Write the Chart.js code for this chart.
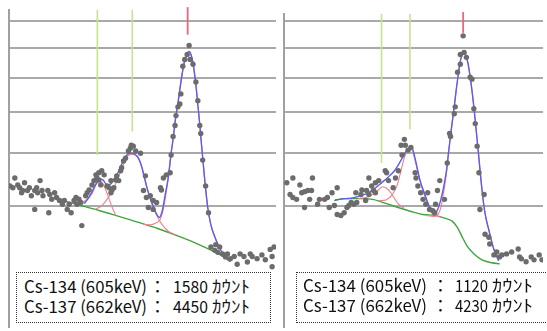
<!DOCTYPE html>
<html>
<head>
<meta charset="utf-8">
<script src="https://cdn.jsdelivr.net/npm/chart.js@4.4.1/dist/chart.umd.min.js"></script>
<style>
  html, body { margin: 0; padding: 0; background: #fff; overflow: hidden; }
  #wrap { position: relative; width: 547px; height: 331px; }
  canvas { position: absolute; top: 0; }
  .box { position: absolute; border: 1px dotted #333; background: #fff; box-sizing: border-box; }
  .t { position: absolute; font-family: "Noto Sans CJK JP"; font-size: 17px; line-height: 17px;
       white-space: pre; transform-origin: 0 0; color: #111; }
</style>
</head>
<body>
<div id="wrap">
  <canvas id="left" width="280" height="331" style="left:0"></canvas>
  <canvas id="right" width="267" height="331" style="left:280px"></canvas>
  <div class="box" style="left:16px;top:272px;width:255px;height:51px"></div>
  <div class="box" style="left:296px;top:272px;width:262px;height:51px"></div>
</div>
<script>
// energy (keV) / counts
const gridCounts = [100, 200, 300, 400, 500, 600];

const leftRangeKeV = [478, 753];
const leftRangeCounts = [0.216, 642.6];
const rightRangeKeV = [470, 747.6];
const rightRangeCounts = [0.216, 626.9];

const leftPoints = [
  [479,133],[482,130],[484,148],[487,135],[489,130],[491,121],[492,125],[494,139],[497,125],[499,130],
  [501,116],[504.5,125],[504.5,94],[506.5,130],[507.5,121],[510,143],[512,125],[513,116],[518,125],[519,89],
  [520,118],[522,110],[525,121],[527,113],[530,108],[533,102],[535,108],[538,94],[540,102],[542,89],
  [545,108],[547,113],[548,102],[550,110],[552,105],[553,71],[557,116],[558.5,121],[560.5,126],[563.5,135],
  [565.5,143],[567.5,154],[568.5,148],[570.5,158],[570.5,144],[572.5,135],[573.5,162],[576,154],[579,133],[581,130],
  [583,143],[583,121],[584,126],[586,130],[588,144],[589,152],[591,143],[593,162],[594,168],[596,182],
  [598,188],[601,204],[603,210],[604,217],[606,215],[608.5,204],[613.5,199],[616.5,125],[618.5,152],[619.5,113],
  [621.5,97],[623.5,116],[626.5,108],[626.5,94],[630,105],[634,130],[635,126],[637,148],[640,154],[644,158],
  [645,195],[647,238],[649,265],[650,291],[652,315],[654,323],[655,352],[657,438],[659,461],[661.5,478],
  [663.5,509],[664.5,461],[667.5,445],[670.5,388],[672.5,332],[674.5,265],[675.5,245],[677.5,184],[680.5,133],[683.5,89],
  [686,45.5],[690,42],[691,48],[693,40],[695,45.5],[698,38.5],[701,35.6],[703,38.5],[706,34],[710,36],
  [713,29],[716,38.5],[720,36],[723.5,31],[726.5,38.5],[728.5,36],[733.5,34],[738.5,37.5],[742,33],[747,43],
  [749,36],[751,45.5],[749,27]
];
const leftFit = [
  [555.4,103.1],[559.5,111.1],[563.5,122.9],[567.6,137.0],[570.7,146.2],[574.8,144.4],[578.8,135.2],[582.9,137.0],
  [587.0,148.1],[591.1,161.6],[595.1,179.9],[599.2,194.7],[603.3,199.1],[607.4,196.9],[611.4,188.3],[614.5,171.6],
  [617.5,148.1],[620.6,126.3],[624.7,106.3],[628.7,90.9],[632.8,82.3],[635.9,92.4],[638.9,117.8],[642.0,148.1],
  [645.0,199.1],[647.1,233.2],[649.1,275.2],[652.2,329.0],[655.2,390.8],[658.3,447.9],[661.3,477.9],[663.4,488.1],
  [665.4,477.9],[667.4,451.1],[670.5,378.6],[672.5,320.7],[674.6,265.0],[676.6,210.1],[679.7,142.5],[682.7,96.9],
  [685.8,72.7],[690.9,54.2],[696.0,42.4],[701.1,35.6],[706.1,32.0]
];
const leftPeakA = [
  [548.3,101.6],[556.4,107.9],[563.5,119.5],[567.6,135.2],[571.7,142.5],[575.8,133.4],[579.9,116.1],[583.9,98.5],[588.0,85.1]
];
const leftPeakB = [
  [566.6,93.9],[573.7,100.0],[580.9,114.4],[588.0,137.0],[595.1,171.6],[600.2,192.5],[604.3,196.9],[608.4,194.7],
  [612.5,181.9],[616.5,157.7],[620.6,128.1],[624.7,104.7],[629.8,86.5],[634.8,74.0],[642.0,63.7],[650.1,58.9]
];
const leftPeakC = [
  [616.5,72.7],[623.6,72.0],[628.7,74.0],[633.8,79.5],[636.9,93.9],[639.9,121.2],[643.0,163.6],[645.0,199.1],
  [647.1,233.2],[649.1,275.2],[652.2,329.0],[655.2,390.8],[658.3,447.9],[661.3,477.9],[663.4,488.1],[665.4,477.9],
  [667.4,451.1],[670.5,378.6],[672.5,320.7],[674.6,265.0],[676.6,210.1],[679.7,142.5],[682.7,96.9],[685.8,72.7],
  [690.9,54.2],[696.0,42.4],[701.1,35.6]
];
const leftBase = [
  [529.9,109.5],[550.3,100.8],[570.7,92.4],[591.1,83.7],[611.4,75.4],[631.8,66.9],[655.2,56.5],[672.5,48.7],
  [689.8,40.4],[699.0,35.6],[706.1,31.2]
];
const leftLineKeV = [569, 605];
const leftLineLow = [195, 250];
const leftLineHigh = 642.6;
const leftMarkKeV = 662;
const leftMarkRange = [548, 654];

const rightPoints = [
  [473,139],[476.5,118],[479.5,148],[479.5,113],[483.5,110],[487,135],[489,121],[492,123],[492,97],[495.5,125],
  [497.5,110],[499.5,125],[500.5,148],[506,102],[508,110],[513.5,110],[516.5,113],[518.5,97],[521.5,121],[524,100],
  [527,130],[527,86.5],[531,85],[534.5,89],[537.5,97],[539.5,100],[542,105],[545,102],[547,121],[548,105],
  [552.5,118],[553.5,126],[557.5,108],[558.5,125],[561,148],[561,118],[564,133],[566,125],[568,121],[568,139],
  [571.5,143],[578.5,162],[580,158],[582,143],[587,130],[589.5,148],[592.5,162],[595.5,217],[596.5,195],[599,231],
  [600,217],[603,206],[606,212],[610.5,158],[611.5,148],[613.5,133],[616.5,121],[619,110],[622,102],[624,121],
  [626,94],[629.5,92],[631.5,89],[632.5,102],[634.5,125],[637,143],[642,110],[645,178],[647.5,245],[648.5,238],
  [652.5,296],[653.5,315],[656,419],[659,445],[659,478],[662,544],[663,485],[665.5,468],[669.5,403],[671.5,397],
  [673.5,310],[675,270],[677,215],[679,158],[680,94],[684.5,118],[685.5,60],[689.5,56.5],[690.5,48.7],[695,37.5],
  [698,40.4],[701,35.6],[703.5,37.5],[708.5,38.5],[714,40.4],[721,43.4],[722.5,35.6],[724.5,33.8],[729.5,31.2],[735,35.6],
  [738,32.9],[743.5,37.5],[746.5,32.9]
];
const rightFit = [
  [524.9,109.5],[536.5,111.1],[544.9,112.8],[552.3,116.1],[560.8,121.2],[568.2,129.9],[574.5,138.8],[581.9,150.0],
  [588.2,161.6],[592.4,173.7],[596.7,188.3],[600.9,203.5],[604.1,210.1],[607.2,210.1],[610.4,188.3],[615.7,144.4],
  [621.0,117.8],[626.2,96.9],[630.4,86.5],[634.7,93.9],[637.8,107.9],[641.0,129.9],[644.2,163.6],[646.3,199.1],
  [648.4,238.0],[650.5,277.8],[652.6,317.9],[654.7,366.6],[656.8,412.5],[658.9,454.5],[661.1,477.9],[663.2,484.7],
  [665.3,471.1],[667.4,444.6],[670.6,381.6],[673.7,309.7],[675.8,257.5],[677.9,210.1],[680.1,163.6],[682.2,126.3],
  [685.3,89.4],[689.6,65.0],[694.8,43.4],[700.1,32.0]
];
const rightPeakA = [
  [550.2,111.1],[560.8,114.4],[569.2,122.9],[575.6,131.6],[581.9,126.3],[587.2,114.4],[592.4,103.1],[598.8,95.4]
];
const rightPeakB = [
  [571.3,107.5],[579.8,109.5],[586.1,117.8],[591.4,135.2],[595.6,163.6],[599.8,194.7],[604.1,207.9],[607.2,207.9],
  [610.4,184.0],[615.7,142.5],[621.0,114.4],[626.2,95.4],[631.5,86.5],[637.8,82.3]
];
const rightPeakC = [
  [622.0,85.1],[630.4,83.7],[635.7,88.0],[638.9,101.6],[641.0,121.2],[644.2,157.7],[646.3,199.1],[648.4,238.0],
  [650.5,277.8],[652.6,317.9],[654.7,366.6],[656.8,412.5],[658.9,454.5],[661.1,477.9],[663.2,484.7],[665.3,471.1],
  [667.4,444.6],[670.6,381.6],[673.7,309.7],[675.8,257.5],[677.9,210.1],[680.1,163.6],[682.2,126.3],[685.3,89.4],
  [689.6,65.0],[694.8,43.4],[700.1,32.0]
];
const rightBase = [
  [523.8,107.9],[534.4,111.1],[550.2,111.1],[566.1,109.5],[579.8,103.1],[592.4,96.9],[606.2,90.9],[618.8,86.5],
  [631.5,85.1],[643.1,80.9],[650.5,76.7],[655.8,68.8],[661.1,56.5],[666.3,46.5],[673.7,38.5],[682.2,32.9],
  [692.7,30.3],[701.2,29.4]
];
const rightLineKeV = [574.5, 605];
const rightLineLow = [178, 255];
const rightLineHigh = 627;
const rightMarkKeV = 662;
const rightMarkRange = [555, 635];

const isotopes = ['Cs-134 (605keV)', 'Cs-137 (662keV)'];
const leftTotals = ['1580', '4450'];
const rightTotals = ['1120', '4230'];
const unitText = 'ｶｳﾝﾄ';

// square-root count axis (gridlines are not evenly spaced)
class SqrtScale extends Chart.LinearScale {
  getPixelForValue(value) {
    const a = Math.sqrt(this.min), b = Math.sqrt(this.max);
    return this.getPixelForDecimal((Math.sqrt(Math.max(value, 0)) - a) / (b - a));
  }
  getValueForPixel(pixel) {
    const a = Math.sqrt(this.min), b = Math.sqrt(this.max);
    const s = a + this.getDecimalForPixel(pixel) * (b - a);
    return s * s;
  }
}
SqrtScale.id = 'sqrt';
SqrtScale.defaults = Chart.LinearScale.defaults;
Chart.register(SqrtScale);

const pts = arr => arr.map(([x, y]) => ({ x, y }));

function curve(data, color, width, order) {
  return {
    data: pts(data), showLine: true, borderColor: color, borderWidth: width,
    pointRadius: 0, cubicInterpolationMode: 'monotone', fill: false, order
  };
}
function straight(data, color, width, order, clip) {
  return {
    data: pts(data), showLine: true, borderColor: color, borderWidth: width,
    pointRadius: 0, tension: 0, fill: false, order, clip: clip
  };
}

function spectrum(id, s) {
  const datasets = [
    { data: pts(s.points), showLine: false, pointRadius: 2.7, pointBackgroundColor: '#6c6c6c',
      pointBorderWidth: 0, order: 0 },
    curve(s.fit, '#5c5cf2', 1.4, 1),
    curve(s.peakA, '#f0808f', 1.1, 2),
    curve(s.peakB, '#f0808f', 1.1, 2),
    curve(s.peakC, '#f0808f', 1.1, 2),
    curve(s.base, '#3fa53f', 1.4, 3),
  ];
  s.lineKeV.forEach((k, i) => {
    datasets.push(straight([[k, s.lineLow[i]], [k, s.lineHigh]], '#c6e489', 1.6, 4, false));
  });
  datasets.push(straight([[s.markKeV, s.markRange[0]], [s.markKeV, s.markRange[1]]], '#e8687e', 1.8, 4, false));

  new Chart(document.getElementById(id), {
    type: 'scatter',
    data: { datasets },
    options: {
      responsive: false,
      animation: false,
      events: [],
      layout: { padding: s.padding },
      plugins: { legend: { display: false }, tooltip: { enabled: false } },
      scales: {
        x: { type: 'linear', min: s.rangeKeV[0], max: s.rangeKeV[1], display: false },
        y: {
          type: 'sqrt', min: s.rangeCounts[0], max: s.rangeCounts[1],
          afterFit: sc => { sc.width = 0; },
          afterBuildTicks: sc => { sc.ticks = gridCounts.map(v => ({ value: v })); },
          ticks: { display: false },
          grid: { color: '#a9a9a9', lineWidth: 2, drawTicks: false },
          border: { display: true, color: '#a0a0a0', width: 2 }
        }
      }
    }
  });
}

spectrum('left', {
  points: leftPoints, fit: leftFit, peakA: leftPeakA, peakB: leftPeakB, peakC: leftPeakC, base: leftBase,
  lineKeV: leftLineKeV, lineLow: leftLineLow, lineHigh: leftLineHigh,
  markKeV: leftMarkKeV, markRange: leftMarkRange,
  rangeKeV: leftRangeKeV, rangeCounts: leftRangeCounts,
  padding: { left: 9, top: 10, right: 1, bottom: 0 }
});
spectrum('right', {
  points: rightPoints, fit: rightFit, peakA: rightPeakA, peakB: rightPeakB, peakC: rightPeakC, base: rightBase,
  lineKeV: rightLineKeV, lineLow: rightLineLow, lineHigh: rightLineHigh,
  markKeV: rightMarkKeV, markRange: rightMarkRange,
  rangeKeV: rightRangeKeV, rangeCounts: rightRangeCounts,
  padding: { left: 4, top: 14, right: 0, bottom: 0 }
});

// result boxes
const wrap = document.getElementById('wrap');
const mctx = document.createElement('canvas').getContext('2d');
mctx.font = '17px "Noto Sans CJK JP"';
const fm = mctx.measureText('C');
const baseOffset = (17 - fm.fontBoundingBoxAscent - fm.fontBoundingBoxDescent) / 2 + fm.fontBoundingBoxAscent;

function put(text, x, baseline, right) {
  const el = document.createElement('span');
  el.className = 't';
  el.textContent = text;
  wrap.appendChild(el);
  el.style.left = x + 'px';
  el.style.top = (baseline - baseOffset) + 'px';
  if (right) {
    const w = el.getBoundingClientRect().width;
    el.style.transform = 'scaleX(' + ((right - x) / w) + ')';
  }
}

const boxes = [
  { totals: leftTotals, label: [24, 147], colon: 149, num: [173, 208], unit: [212, 250], base: [292.5, 313] },
  { totals: rightTotals, label: [303, 427], colon: 432, num: [455, 488], unit: [492, 533], base: [291.5, 311.5] }
];
boxes.forEach(b => {
  isotopes.forEach((iso, i) => {
    put(iso, b.label[0], b.base[i], b.label[1]);
    put('：', b.colon, b.base[i]);
    put(b.totals[i], b.num[0], b.base[i], b.num[1]);
    put(unitText, b.unit[0], b.base[i], b.unit[1]);
  });
});
</script>
</body>
</html>
